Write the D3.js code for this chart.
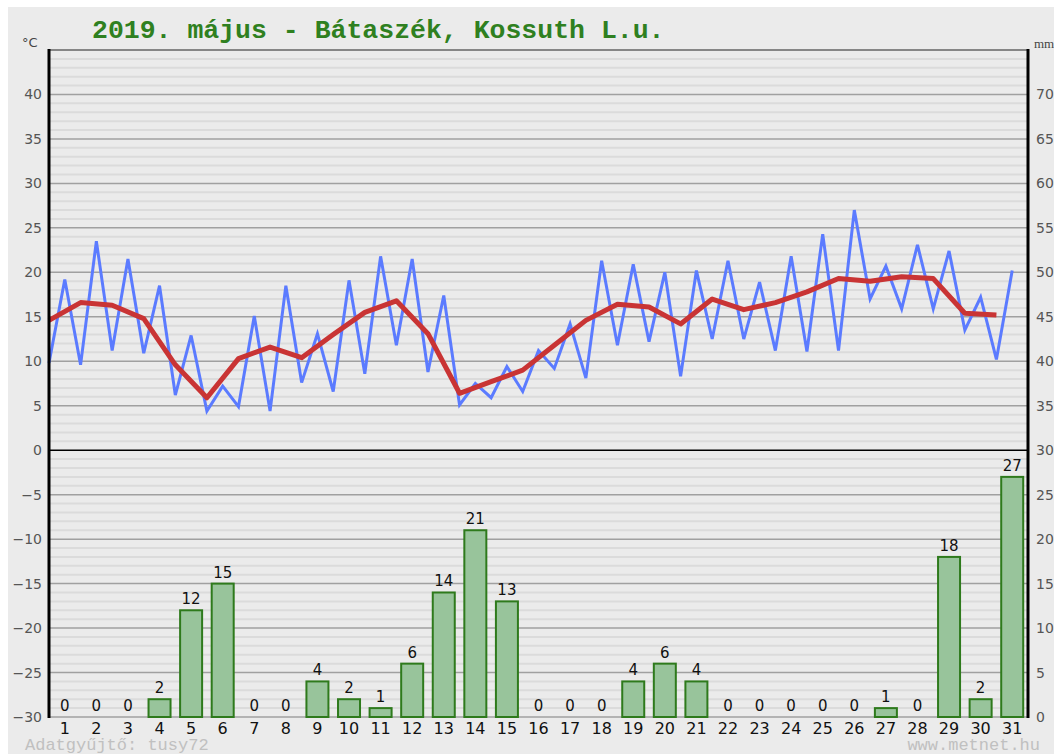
<!DOCTYPE html>
<html><head><meta charset="utf-8">
<script src="https://cdn.jsdelivr.net/npm/d3@7"></script>
<style>html,body{margin:0;padding:0;background:#fff;overflow:hidden}</style>
</head><body>
<svg id="c" width="1054" height="754"></svg>
<script>
const days = d3.range(1, 32);
const tMin = [9.8,9.6,11.2,10.9,6.2,4.4,4.9,4.4,7.6,6.6,8.6,11.8,8.8,5.1,5.9,6.6,9.2,8.1,11.8,12.2,8.3,12.5,12.5,11.2,11.1,11.2,17.0,15.9,15.9,13.5,10.2];
const tMax = [19.2,23.5,21.5,18.5,12.9,7.2,15.1,18.5,13.1,19.1,21.8,21.5,17.4,7.5,9.4,11.2,14.2,21.3,20.9,20.0,20.2,21.3,18.9,21.8,24.3,27.0,20.7,23.1,22.4,17.2,20.2];
const tMean = [14.6,16.6,16.3,14.8,9.6,5.9,10.3,11.6,10.4,13.0,15.5,16.8,13.1,6.4,7.7,9.0,11.8,14.6,16.4,16.1,14.2,17.0,15.8,16.6,17.8,19.3,19.0,19.5,19.3,15.4,15.2];
const precip = [0,0,0,2,12,15,0,0,4,2,1,6,14,21,13,0,0,0,4,6,4,0,0,0,0,0,1,0,18,2,27];
const leftTicks = d3.range(-30, 41, 5);
const rightTicks = d3.range(0, 71, 5);
const title = "2019. május - Bátaszék, Kossuth L.u.";

const svg = d3.select("#c");
const L = 49, R = 1028, T = 50, B = 717;
const x = d3.scaleLinear().domain([0, 31]).range([L, R]);
const y = d3.scaleLinear().domain([-30, 45]).range([B, T]);
const yR = d3.scaleLinear().domain([0, 75]).range([B, T]);

svg.append("rect").attr("x", 8).attr("y", 7).attr("width", 1046).attr("height", 747).attr("fill", "#ebebeb");

// minor grid
svg.append("g").selectAll("line").data(d3.range(-30, 46, 1).filter(v => v % 5 !== 0)).join("line")
  .attr("x1", L).attr("x2", R).attr("y1", d => y(d)).attr("y2", d => y(d))
  .attr("stroke", "#dbdbdb").attr("stroke-width", 2);
// major grid
svg.append("g").selectAll("line").data(d3.range(-30, 46, 5).filter(v => v !== 0)).join("line")
  .attr("x1", L).attr("x2", R).attr("y1", d => y(d)).attr("y2", d => y(d))
  .attr("stroke", "#a0a0a0").attr("stroke-width", 1.5);
// zero line
svg.append("line").attr("x1", L).attr("x2", R).attr("y1", y(0)).attr("y2", y(0))
  .attr("stroke", "#000").attr("stroke-width", 1.5);

// left axis
const la = svg.append("g").attr("transform", `translate(${L},0)`)
  .call(d3.axisLeft(y).tickValues(leftTicks).tickSize(0).tickPadding(7).tickFormat(d => d < 0 ? "−" + Math.abs(d) : d));
la.select(".domain").remove();
la.selectAll("text").attr("font-family", "DejaVu Sans").attr("font-size", 14).attr("fill", "#555");
// right axis
const ra = svg.append("g").attr("transform", `translate(${R},0)`)
  .call(d3.axisRight(yR).tickValues(rightTicks).tickSize(0).tickPadding(8));
ra.select(".domain").remove();
ra.selectAll("text").attr("font-family", "DejaVu Sans").attr("font-size", 14).attr("fill", "#555");

svg.append("text").attr("x", 22).attr("y", 47).attr("font-family", "DejaVu Sans").attr("font-size", 13).attr("fill", "#444").text("°C");
svg.append("text").attr("x", 1034).attr("y", 48).attr("font-family", "Liberation Serif").attr("font-size", 13).attr("fill", "#444").text("mm");

// bars
const bw = 22;
svg.append("g").selectAll("rect").data(precip).join("rect")
  .attr("x", (d, i) => x(i + 0.5) - bw / 2).attr("width", bw)
  .attr("y", d => yR(d)).attr("height", d => yR(0) - yR(d))
  .attr("fill", "#98c49b").attr("stroke", "#2e7a1c").attr("stroke-width", 2);
svg.append("g").selectAll("text").data(precip).join("text")
  .attr("x", (d, i) => x(i + 0.5)).attr("y", d => yR(d) - 6)
  .attr("text-anchor", "middle").attr("font-family", "DejaVu Sans").attr("font-size", 15).attr("fill", "#111")
  .text(d => d);

// day labels
svg.append("g").selectAll("text").data(days).join("text")
  .attr("x", (d, i) => x(i + 0.5)).attr("y", 734)
  .attr("text-anchor", "middle").attr("font-family", "DejaVu Sans").attr("font-size", 16).attr("fill", "#111")
  .text(d => d);

// blue min/max line
const bluePts = [];
tMin.forEach((v, i) => { bluePts.push([i, v]); bluePts.push([i + 0.5, tMax[i]]); });
svg.append("path").datum(bluePts)
  .attr("d", d3.line().x(d => x(d[0])).y(d => y(d[1])))
  .attr("fill", "none").attr("stroke", "#5b7bff").attr("stroke-width", 3).attr("stroke-linejoin", "miter");
// red mean line
svg.append("path").datum(tMean)
  .attr("d", d3.line().x((d, i) => x(i)).y(d => y(d)))
  .attr("fill", "none").attr("stroke", "#c93434").attr("stroke-width", 5).attr("stroke-linejoin", "round");

// frame
svg.append("line").attr("x1", L).attr("x2", R).attr("y1", T).attr("y2", T).attr("stroke", "#777").attr("stroke-width", 1.5);
svg.append("line").attr("x1", L).attr("x2", L).attr("y1", T - 1).attr("y2", B + 1).attr("stroke", "#000").attr("stroke-width", 3);
svg.append("line").attr("x1", R).attr("x2", R).attr("y1", T - 1).attr("y2", B + 1).attr("stroke", "#000").attr("stroke-width", 3);

// title
svg.append("text").attr("x", 92).attr("y", 38).attr("font-family", "Liberation Mono").attr("font-weight", "bold")
  .attr("font-size", 26.5).attr("fill", "#2f8020").text(title);

// footer
svg.append("text").attr("x", 25).attr("y", 750).attr("font-family", "Liberation Mono").attr("font-size", 17).attr("fill", "#c0c0c0").text("Adatgyűjtő: tusy72");
svg.append("text").attr("x", 1040).attr("y", 750).attr("text-anchor", "end").attr("font-family", "Liberation Mono").attr("font-size", 17).attr("fill", "#c0c0c0").text("www.metnet.hu");
</script>
</body></html>
